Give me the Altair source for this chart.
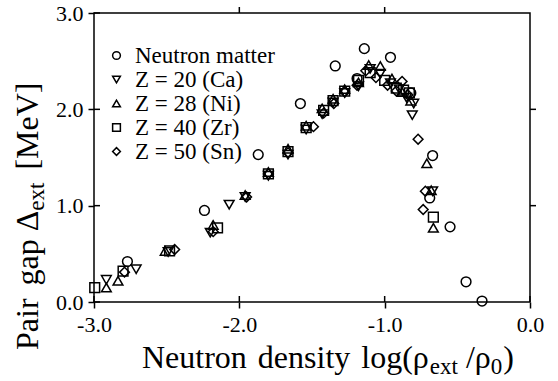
import altair as alt
import pandas as pd

# ---- data ----
nm_x = [-2.77, -2.24, -1.87, -1.58, -1.34, -1.19, -1.14, -0.96, -0.82, -0.67, -0.69, -0.55, -0.44, -0.33]
nm_y = [0.42, 0.95, 1.53, 2.06, 2.45, 2.32, 2.63, 2.54, 2.17, 1.52, 1.08, 0.78, 0.21, 0.01]

ca_x = [-2.915, -2.71, -2.49, -2.20, -2.07, -1.96, -1.80, -1.665, -1.54, -1.43, -1.355, -1.275, -1.18,
        -1.10, -1.03, -0.96, -0.90, -0.85, -0.80, -0.81, -0.67]
ca_y = [0.23, 0.34, 0.52, 0.72, 1.01, 1.09, 1.31, 1.53, 1.79, 1.95, 2.07, 2.17, 2.24,
        2.42, 2.37, 2.27, 2.21, 2.12, 2.06, 1.94, 1.15]

ni_x = [-2.915, -2.835, -2.51, -2.18, -1.96, -1.80, -1.665, -1.54, -1.43, -1.355, -1.275, -1.18,
        -1.11, -1.03, -0.95, -0.88, -0.82, -0.71, -0.68, -0.665]
ni_y = [0.15, 0.22, 0.53, 0.80, 1.11, 1.35, 1.59, 1.83, 2.01, 2.11, 2.21, 2.28,
        2.46, 2.45, 2.32, 2.18, 2.09, 1.44, 1.16, 0.77]

zr_x = [-2.995, -2.80, -2.48, -2.15, -1.80, -1.665, -1.54, -1.42, -1.355, -1.275, -1.18,
        -1.10, -1.00, -0.92, -0.87, -0.83, -0.665]
zr_y = [0.15, 0.32, 0.53, 0.77, 1.33, 1.56, 1.81, 1.99, 2.09, 2.19, 2.30,
        2.38, 2.30, 2.22, 2.20, 2.17, 0.88]

sn_x = [-2.79, -2.445, -2.18, -1.95, -1.80, -1.665, -1.49, -1.42, -1.35, -1.275, -1.19,
        -1.13, -1.06, -0.98, -0.92, -0.88, -0.84, -0.77, -0.72, -0.735]
sn_y = [0.31, 0.545, 0.73, 1.09, 1.33, 1.55, 1.82, 1.96, 2.06, 2.18, 2.25,
        2.40, 2.33, 2.25, 2.19, 2.29, 2.15, 1.69, 1.15, 0.96]

series_names = ["Neutron matter", "Z = 20 (Ca)", "Z = 28 (Ni)", "Z = 40 (Zr)", "Z = 50 (Sn)"]
series_shapes = ["circle", "triangle-down", "triangle-up", "square", "diamond"]

x_ticks = [-3.0, -2.0, -1.0, 0.0]
y_ticks = [0.0, 1.0, 2.0, 3.0]

rows = []
for name, xs, ys in zip(series_names, [nm_x, ca_x, ni_x, zr_x, sn_x], [nm_y, ca_y, ni_y, zr_y, sn_y]):
    for a, b in zip(xs, ys):
        rows.append({"x": a, "y": b, "series": name})
df = pd.DataFrame(rows)

# ---- layout ----
W, H = 436, 289
FONT = "Liberation Serif"
F = 32      # title font size
S = 23      # subscript font size

xscale = alt.Scale(domain=[-3, 0], nice=False, zero=False)
yscale = alt.Scale(domain=[0, 3], nice=False, zero=False)

xaxis = alt.Axis(values=x_ticks, title=None, grid=False, domain=False, tickSize=6, tickWidth=1.5,
                 tickColor="black", labelFont=FONT, labelFontSize=22, labelColor="black",
                 labelPadding=6, labelFlush=False,
                 labelExpr="(datum.value < 0 ? '-' : '') + format(abs(datum.value), '.1f')")
yaxis = alt.Axis(values=y_ticks, title=None, grid=False, domain=False, tickSize=6, tickWidth=1.5,
                 tickColor="black", labelFont=FONT, labelFontSize=22, labelColor="black",
                 labelPadding=5, labelFlush=False, format=".1f")

points = alt.Chart(df).mark_point(filled=False, stroke="black", strokeWidth=1.5, size=95, opacity=1).encode(
    x=alt.X("x:Q", scale=xscale, axis=xaxis),
    y=alt.Y("y:Q", scale=yscale, axis=yaxis),
    shape=alt.Shape("series:N",
                    scale=alt.Scale(domain=series_names, range=series_shapes),
                    legend=alt.Legend(title=None, orient="none", legendX=11, legendY=31,
                                      labelFont=FONT, labelFontSize=23, labelColor="black",
                                      symbolStrokeColor="black", symbolFillColor="white",
                                      symbolStrokeWidth=1.5, symbolSize=60, rowPadding=0,
                                      labelOffset=7, padding=0)),
)

xt = pd.DataFrame({"x": x_ticks})
yt = pd.DataFrame({"y": y_ticks})
top_t = pd.DataFrame({"x": x_ticks[1:3]})
right_t = pd.DataFrame({"y": y_ticks[1:3]})

rule_kw = dict(color="black", strokeWidth=1.5)
left_in = alt.Chart(yt).mark_rule(**rule_kw).encode(
    y=alt.Y("y:Q", scale=yscale, axis=yaxis), x=alt.value(0), x2=alt.value(6))
bottom_in = alt.Chart(xt).mark_rule(**rule_kw).encode(
    x=alt.X("x:Q", scale=xscale, axis=xaxis), y=alt.value(H), y2=alt.value(H - 6))
top_out = alt.Chart(top_t).mark_rule(**rule_kw).encode(
    x=alt.X("x:Q", scale=xscale, axis=xaxis), y=alt.value(0), y2=alt.value(-6))
right_out = alt.Chart(right_t).mark_rule(**rule_kw).encode(
    y=alt.Y("y:Q", scale=yscale, axis=yaxis), x=alt.value(W), x2=alt.value(W + 6))

# ---- titles with subscripts ----
adv = {"N": .722, "e": .444, "u": .5, "t": .278, "r": .333, "o": .5, "n": .5, " ": .25, "d": .5,
       "s": .389, "i": .278, "y": .5, "l": .278, "g": .5, "(": .333, ")": .333, "/": .278,
       "x": .5, "0": .5, "P": .556, "a": .444, "p": .5, "Δ": .612, "[": .333, "]": .333,
       "M": .889, "V": .722, "ρ": .5}


def wid(s, size):
    return sum(adv.get(c, .5) for c in s) * size


one = pd.DataFrame({"k": [0]})


def txt(s, x, y, size, angle=0):
    kw = dict(font=FONT, fontSize=size, color="black", align="left", baseline="alphabetic")
    if angle:
        kw["angle"] = angle
    return alt.Chart(one).mark_text(**kw).encode(x=alt.value(x), y=alt.value(y), text=alt.value(s))


# x title: (text, size, baseline drop, gap before piece)
x0, yb, drop = 48, 355, 6
pieces = [("Neutron", F, 0, 0), ("density", F, 0, F * .25 + 3), ("log(ρ", F, 0, F * .25 + 3),
          ("ext", S, drop, 1), ("/ρ", F, 0, F * .25), ("0", S, drop, 0), (")", F, 0, 1)]
xlayers = []
cx = x0
for s, size, d, gap in pieces:
    cx += gap
    xlayers.append(txt(s, cx, yb + d, size))
    cx += wid(s, size)

# y title (rotated, reading upward)
ybx, y0 = -56, 337
ypieces = [("Pair", F, 0, 0), ("gap Δ", F, 0, F * .25 + 5), ("ext", S, drop, 1),
           ("[MeV]", F, 0, F * .25 + 5)]
ylayers = []
cy = y0
for s, size, d, gap in ypieces:
    cy -= gap
    ylayers.append(txt(s, ybx + d, cy, size, angle=270))
    cy -= wid(s, size)

chart = alt.layer(points, left_in, bottom_in, top_out, right_out, *xlayers, *ylayers).properties(
    width=W, height=H,
    padding={"left": 94, "top": 13, "right": 28, "bottom": 79},
    autosize=alt.AutoSizeParams(type="none"),
    background="white",
).configure(font=FONT).configure_axis(labelFont=FONT).configure_legend(labelFont=FONT).configure_view(
    stroke="black", strokeWidth=1.5)

chart.save("out.html", embed_options={"renderer": "svg", "actions": False})
